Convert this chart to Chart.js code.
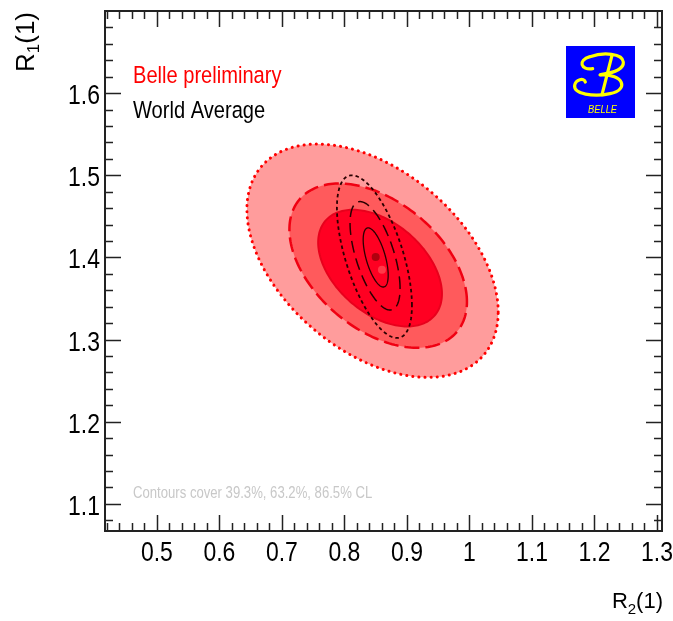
<!DOCTYPE html>
<html>
<head>
<meta charset="utf-8">
<script src="https://cdn.jsdelivr.net/npm/chart.js@4.4.0/dist/chart.umd.min.js"></script>
<style>
  html, body { margin: 0; padding: 0; background: #fff; }
  canvas { display: block; }
</style>
</head>
<body>
<canvas id="chart" width="673" height="621"></canvas>
<script>
// axis tick labels
const r2Ticks = [0.5, 0.6, 0.7, 0.8, 0.9, 1.0, 1.1, 1.2, 1.3];
const r1Ticks = [1.1, 1.2, 1.3, 1.4, 1.5, 1.6];

// contour levels, inner to outer
const clLevels = ["39.3%", "63.2%", "86.5%"];

// Belle preliminary: contour centres and half-extents, inner to outer
const belleR2 = [0.857, 0.854, 0.845];
const belleR1 = [1.387, 1.390, 1.396];
const belleHalfR2 = [0.099, 0.142, 0.201];
const belleHalfR1 = [0.071, 0.100, 0.142];
const belleRho = -0.44;
const belleBestR2 = [0.860];
const belleBestR1 = [1.385];

// world average
const worldR2 = [0.850, 0.849, 0.848];
const worldR1 = [1.400, 1.402, 1.401];
const worldHalfR2 = [0.020, 0.040, 0.060];
const worldHalfR1 = [0.036, 0.066, 0.099];
const worldRho = -0.6;
const worldBestR2 = [0.850];
const worldBestR1 = [1.4005];

const SANS = '"Liberation Sans", Arial, Helvetica, sans-serif';
const SQUEEZE = 0.82; // horizontal text compression

function narrowText(ctx, str, x, y, size, align, color) {
  ctx.save();
  ctx.font = size + "px " + SANS;
  ctx.fillStyle = color;
  ctx.textBaseline = "alphabetic";
  ctx.textAlign = "left";
  const w = ctx.measureText(str).width * SQUEEZE;
  let x0 = x;
  if (align === "center") x0 = x - w / 2;
  if (align === "right") x0 = x - w;
  ctx.translate(x0, y);
  ctx.scale(SQUEEZE, 1);
  ctx.fillText(str, 0, 0);
  ctx.restore();
}

function traceContour(ctx, xs, ys, cx, cy, hx, hy, rho) {
  const s = Math.sqrt(1 - rho * rho);
  ctx.beginPath();
  for (let i = 0; i <= 200; i++) {
    const t = i / 200 * 2 * Math.PI;
    const px = xs.getPixelForValue(cx + hx * Math.cos(t));
    const py = ys.getPixelForValue(cy + hy * (rho * Math.cos(t) + s * Math.sin(t)));
    if (i === 0) ctx.moveTo(px, py); else ctx.lineTo(px, py);
  }
  ctx.closePath();
}

const belleFill = ["#ff0022", "#ff5a5c", "#ff9c9c"];
const belleLine = [
  { color: "#e8001c", width: 2, dash: [] },
  { color: "#f00012", width: 2.5, dash: [15, 6] },
  { color: "#ff0000", width: 3, dash: [0.1, 6], cap: "round" }
];
const worldLine = [
  { color: "#2a0000", width: 1.3, dash: [] },
  { color: "#2a0000", width: 1.5, dash: [12, 6] },
  { color: "#2a0000", width: 1.8, dash: [3.5, 3] }
];

const contourPlugin = {
  id: "contours",
  beforeDatasetsDraw(chart) {
    const ctx = chart.ctx, xs = chart.scales.x, ys = chart.scales.y, a = chart.chartArea;
    ctx.save();
    ctx.beginPath();
    ctx.rect(a.left, a.top, a.right - a.left, a.bottom - a.top);
    ctx.clip();
    for (let i = clLevels.length - 1; i >= 0; i--) {
      traceContour(ctx, xs, ys, belleR2[i], belleR1[i], belleHalfR2[i], belleHalfR1[i], belleRho);
      ctx.fillStyle = belleFill[i];
      ctx.fill();
    }
    for (let i = clLevels.length - 1; i >= 0; i--) {
      const st = belleLine[i];
      traceContour(ctx, xs, ys, belleR2[i], belleR1[i], belleHalfR2[i], belleHalfR1[i], belleRho);
      ctx.strokeStyle = st.color;
      ctx.lineWidth = st.width;
      ctx.setLineDash(st.dash);
      ctx.lineCap = st.cap || "butt";
      ctx.stroke();
    }
    for (let i = clLevels.length - 1; i >= 0; i--) {
      const st = worldLine[i];
      traceContour(ctx, xs, ys, worldR2[i], worldR1[i], worldHalfR2[i], worldHalfR1[i], worldRho);
      ctx.strokeStyle = st.color;
      ctx.lineWidth = st.width;
      ctx.setLineDash(st.dash);
      ctx.lineCap = "butt";
      ctx.stroke();
    }
    ctx.restore();
  }
};

function drawLogo(ctx) {
  ctx.save();
  ctx.fillStyle = "#0000ff";
  ctx.fillRect(566, 46, 69, 72);
  // sketch coordinates, 3 units per pixel
  const p = (X, Y) => [560 + X / 3, 40 + Y / 3];
  ctx.strokeStyle = "#ffff00";
  ctx.lineWidth = 3.2;
  ctx.lineCap = "round";
  ctx.setLineDash([]);
  ctx.beginPath();
  ctx.moveTo(...p(98, 86));
  ctx.bezierCurveTo(...p(62, 92), ...p(52, 60), ...p(90, 50));
  ctx.bezierCurveTo(...p(130, 36), ...p(188, 40), ...p(190, 66));
  ctx.bezierCurveTo(...p(192, 90), ...p(150, 100), ...p(122, 104));
  ctx.stroke();
  ctx.beginPath();
  ctx.moveTo(...p(156, 46));
  ctx.lineTo(...p(126, 164));
  ctx.stroke();
  ctx.beginPath();
  ctx.moveTo(...p(120, 105));
  ctx.bezierCurveTo(...p(192, 100), ...p(208, 150), ...p(150, 161));
  ctx.bezierCurveTo(...p(100, 172), ...p(40, 162), ...p(44, 136));
  ctx.bezierCurveTo(...p(47, 118), ...p(72, 112), ...p(76, 126));
  ctx.stroke();
  ctx.restore();
  ctx.save();
  ctx.fillStyle = "#ffff00";
  ctx.font = "italic 11px " + SANS;
  ctx.textBaseline = "alphabetic";
  ctx.translate(588, 113);
  ctx.scale(0.85, 1);
  ctx.fillText("BELLE", 0, 0);
  ctx.restore();
}

const framePlugin = {
  id: "frame",
  afterDraw(chart) {
    const ctx = chart.ctx, xs = chart.scales.x, ys = chart.scales.y, a = chart.chartArea;
    ctx.save();
    ctx.strokeStyle = "#222";
    ctx.setLineDash([]);
    // inward ticks on all four sides
    ctx.lineWidth = 1.5;
    ctx.beginPath();
    for (let v = Math.ceil(xs.min / 0.02) * 0.02; v <= xs.max; v += 0.02) {
      const major = Math.abs(v * 10 - Math.round(v * 10)) < 1e-6;
      const len = major ? 16 : 8;
      const px = Math.round(xs.getPixelForValue(v)) + 0.5;
      ctx.moveTo(px, a.bottom); ctx.lineTo(px, a.bottom - len);
      ctx.moveTo(px, a.top); ctx.lineTo(px, a.top + len);
    }
    for (let v = Math.ceil(ys.min / 0.02) * 0.02; v <= ys.max; v += 0.02) {
      const major = Math.abs(v * 10 - Math.round(v * 10)) < 1e-6;
      const len = major ? 16 : 8;
      const py = Math.round(ys.getPixelForValue(v)) + 0.5;
      ctx.moveTo(a.left, py); ctx.lineTo(a.left + len, py);
      ctx.moveTo(a.right, py); ctx.lineTo(a.right - len, py);
    }
    ctx.stroke();
    ctx.lineWidth = 2;
    ctx.strokeRect(a.left, a.top, a.right - a.left, a.bottom - a.top);
    ctx.restore();

    // tick labels from the scales' own ticks
    xs.ticks.forEach(t => {
      narrowText(ctx, fmt(t.value), xs.getPixelForValue(t.value), a.bottom + 30, 28, "center", "#000");
    });
    ys.ticks.forEach(t => {
      narrowText(ctx, fmt(t.value), a.left - 5, ys.getPixelForValue(t.value) + 11, 28, "right", "#000");
    });

    // legend text
    narrowText(ctx, "Belle preliminary", 133, 83, 24.5, "left", "#ff0000");
    narrowText(ctx, "World Average", 133, 118, 24.5, "left", "#000");
    narrowText(ctx, "Contours cover " + clLevels.join(", ") + " CL", 133, 498, 16, "left", "#c8c8c8");

    drawLogo(ctx);

    ctx.save();
    ctx.fillStyle = "#000";
    ctx.textAlign = "left";
    ctx.textBaseline = "alphabetic";
    // x title, right aligned to the frame
    ctx.font = "22px " + SANS;
    const wR = ctx.measureText("R").width, wP = ctx.measureText("(1)").width;
    ctx.font = "15px " + SANS;
    const wS = ctx.measureText("2").width;
    const x = a.right + 1 - wR - wS - wP;
    ctx.font = "22px " + SANS;
    ctx.fillText("R", x, 608);
    ctx.font = "15px " + SANS;
    ctx.fillText("2", x + wR, 614);
    ctx.font = "22px " + SANS;
    ctx.fillText("(1)", x + wR + wS, 608);

    // y title, rotated, top aligned to the frame
    ctx.font = "26px " + SANS;
    const yR = ctx.measureText("R").width, yP = ctx.measureText("(1)").width;
    ctx.font = "17px " + SANS;
    const yS = ctx.measureText("1").width;
    const total = yR + yS + yP;
    ctx.translate(34, a.top + 1 + total);
    ctx.scale(1, 1);
    ctx.rotate(-Math.PI / 2);
    ctx.font = "26px " + SANS;
    ctx.fillText("R", 0, 0);
    ctx.font = "17px " + SANS;
    ctx.fillText("1", yR, 5);
    ctx.font = "26px " + SANS;
    ctx.fillText("(1)", yR + yS, 0);
    ctx.restore();
  }
};

const fmt = v => String(+Number(v).toFixed(1));

new Chart(document.getElementById("chart"), {
  type: "scatter",
  data: {
    datasets: [
      {
        label: "World Average",
        data: worldBestR2.map((v, i) => ({ x: v, y: worldBestR1[i] })),
        pointRadius: 4,
        pointBackgroundColor: "#b0000e",
        pointBorderWidth: 0
      },
      {
        label: "Belle preliminary",
        data: belleBestR2.map((v, i) => ({ x: v, y: belleBestR1[i] })),
        pointRadius: 4,
        pointBackgroundColor: "#ff3a48",
        pointBorderWidth: 0
      }
    ]
  },
  options: {
    responsive: false,
    animation: false,
    layout: { padding: { top: 11, right: 11, left: 0, bottom: 0 } },
    plugins: { legend: { display: false }, tooltip: { enabled: false } },
    scales: {
      x: {
        type: "linear",
        min: 0.417,
        max: 1.308,
        grid: { display: false, drawTicks: false },
        border: { display: false },
        afterBuildTicks: s => { s.ticks = r2Ticks.map(v => ({ value: v })); },
        afterFit: s => { s.height = 90; },
        ticks: { display: false }
      },
      y: {
        type: "linear",
        min: 1.067,
        max: 1.7,
        grid: { display: false, drawTicks: false },
        border: { display: false },
        afterBuildTicks: s => { s.ticks = r1Ticks.map(v => ({ value: v })); },
        afterFit: s => { s.width = 105; },
        ticks: { display: false }
      }
    }
  },
  plugins: [contourPlugin, framePlugin]
});
</script>
</body>
</html>
